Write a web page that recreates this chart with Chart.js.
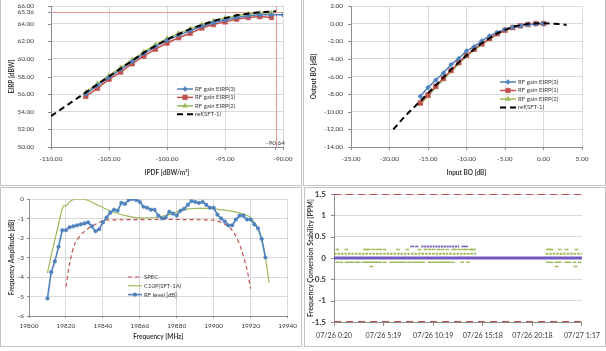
<!DOCTYPE html>
<html><head><meta charset="utf-8">
<script src="https://cdn.jsdelivr.net/npm/chart.js@4.4.1/dist/chart.umd.min.js"></script>
<style>
html,body{margin:0;padding:0;background:#fff;}
body{width:606px;height:351px;position:relative;overflow:hidden;}
canvas{position:absolute;}
.frame{position:absolute;box-sizing:border-box;border:1px solid #c4c4c4;pointer-events:none;}
</style></head><body>
<canvas id="tl" width="301" height="185" style="left:0;top:0"></canvas>
<canvas id="tr" width="301" height="185" style="left:304px;top:0"></canvas>
<canvas id="bl" width="300" height="158" style="left:1px;top:188px"></canvas>
<canvas id="br" width="300" height="158" style="left:305px;top:188px"></canvas>
<div class="frame" style="left:0;top:-1px;width:302px;height:187px"></div>
<div class="frame" style="left:303px;top:-1px;width:303px;height:187px"></div>
<div class="frame" style="left:0;top:187px;width:302px;height:160px"></div>
<div class="frame" style="left:304px;top:187px;width:302px;height:160px"></div>
<script>
// ---------- Top-left: EIRP vs IPDF ----------
const tlX3 = [-107,-106,-105,-104,-103,-102,-101,-100,-99,-98,-97,-96,-95,-94,-93,-92,-91,-90];
const tlEirp3 = [56.0,57.0,57.9,58.8,59.7,60.6,61.4,62.1,62.7,63.2,63.7,64.1,64.4,64.7,64.9,65.0,65.0,65.0];
const tlX12 = [-107,-106,-105,-104,-103,-102,-101,-100,-99,-98,-97,-96,-95,-94,-93,-92,-91];
const tlEirp1 = [55.75,56.65,57.7,58.5,59.45,60.3,61.1,61.8,62.4,62.9,63.5,63.9,64.2,64.5,64.7,64.8,64.7];
const tlEirp2 = [56.2,57.2,58.1,59.0,59.9,60.8,61.6,62.3,62.9,63.4,63.9,64.3,64.6,64.9,65.1,65.2,65.2];
const tlRefX = [-110,-108,-106,-105,-104,-102,-100,-98,-96,-94,-92,-90.6];
const tlRef = [53.5,55.3,57.1,58.0,58.9,60.7,62.2,63.4,64.3,64.95,65.3,65.4];
const tlYTicks = [50,52,54,56,58,60,62,64,65.36,66];
const tlXTicks = [-110,-105,-100,-95,-90.64,-90];
const tlMarkX = -90.64, tlMarkY = 65.36;

// ---------- Top-right: Output BO vs Input BO ----------
const trX = [-16,-15,-14,-13,-12,-11,-10,-9,-8,-7,-6,-5,-4,-3,-2,-1,0];
const trBo3 = [-8.25,-7.25,-6.4,-5.6,-4.65,-3.95,-3.1,-2.6,-1.95,-1.4,-1.0,-0.65,-0.42,-0.27,-0.12,-0.05,0.0];
const trBo1 = [-9.0,-8.1,-7.1,-6.2,-5.3,-4.4,-3.6,-2.9,-2.3,-1.7,-1.15,-0.75,-0.45,-0.25,-0.1,0.0,0.0];
const trBo2 = [-9.1,-8.25,-7.25,-6.35,-5.45,-4.55,-3.7,-3.0,-2.35,-1.75,-1.15,-0.75,-0.45,-0.25,-0.1,0.0,0.0];
const trRefX = [-19.5,-18,-16,-14,-12,-10,-8,-6,-4,-2,0,2,3];
const trRef = [-12.0,-10.5,-8.8,-7.0,-5.2,-3.6,-2.2,-1.1,-0.35,-0.02,0.05,-0.05,-0.15];
const trYTicks = [-14,-12,-10,-8,-6,-4,-2,0,2];
const trXTicks = [-25,-20,-15,-10,-5,0,5];

// ---------- Bottom-left: frequency response ----------
const blRfX = [19810,19812,19814,19816,19818,19820,19822,19824,19826,19828,19830,19832,19834,19836,19838,19840,19842,19844,19846,19848,19850,19852,19854,19856,19858,19860,19862,19864,19866,19868,19870,19872,19874,19876,19878,19880,19882,19884,19886,19888,19890,19892,19894,19896,19898,19900,19902,19904,19906,19908,19910,19912,19914,19916,19918,19920,19922,19924,19926,19928];
const blRf = [-5.1,-3.75,-3.2,-2.45,-1.6,-1.6,-1.45,-1.4,-1.35,-1.3,-1.25,-1.2,-1.4,-1.65,-1.55,-1.2,-0.95,-0.7,-0.55,-0.6,-0.2,-0.25,-0.05,0.0,-0.05,-0.15,-0.4,-0.45,-0.55,-0.55,-0.85,-1.0,-0.95,-0.65,-0.75,-0.85,-0.6,-0.5,-0.3,-0.1,-0.15,-0.2,-0.15,-0.3,-0.45,-0.45,-0.8,-1.0,-1.15,-1.35,-1.35,-1.05,-0.85,-0.85,-1.05,-1.05,-1.3,-1.5,-2.05,-3.0];
const blC10X = [19810,19812,19814,19816,19818,19819,19820,19821,19823,19826,19829,19832,19838,19846,19853,19860,19868,19875,19882,19890,19897,19904,19911,19917,19920,19922,19924,19926,19928,19930];
const blC10 = [-3.8,-2.9,-2.1,-1.3,-0.5,-0.32,-0.38,-0.25,-0.08,0,0,-0.08,-0.35,-0.68,-0.87,-0.97,-0.95,-0.83,-0.6,-0.48,-0.48,-0.55,-0.65,-0.8,-0.95,-1.2,-1.5,-2.05,-3.0,-4.3];
const blSpecX = [19820,19822,19825,19829,19833,19838,19841,19900,19905,19909,19912,19915,19918,19920];
const blSpec = [-4.5,-3.3,-2.25,-1.75,-1.45,-1.2,-1.08,-1.08,-1.25,-1.5,-1.9,-2.6,-3.6,-4.6];
const blXTicks = [19800,19820,19840,19860,19880,19900,19920,19940];
const blYTicks = [-6,-5,-4,-3,-2,-1,0];

// ---------- Bottom-right: conversion stability (hours from start) ----------
const brTickPos = [0,4.98,9.98,14.97,19.97,24.95];
const brTickLabels = ["07/26 0:20","07/26 5:19","07/26 10:19","07/26 15:18","07/26 20:18","07/27 1:17"];
const brYTicks = [-1.5,-1,-0.5,0,0.5,1,1.5];
const brLimit = 1.5;
const brRun01 = [[0,14.3],[21.3,24.95]];
const brPts02 = [0.34,1.24,3.09,3.3,3.49,3.92,4.33,4.69,5.1,6.44,7.38,8.6,9.2,9.6,10.0,10.5,10.9,11.4,12.0,12.2,12.6,13.0,13.3,13.7,13.9,14.1,21.5,21.7,21.9,22.7,23.4,24.4];
const brPtsM01 = [0.34,0.74,1.24,1.58,1.84,2.25,2.51,2.98,3.25,3.49,3.76,4.09,4.33,4.66,5.1,5.77,6.1,6.44,6.77,7.11,7.54,7.95,8.28,8.62,8.95,9.62,9.96,10.3,10.63,10.96,11.3,11.57,11.97,12.91,13.48,21.53,21.87,22.37,22.7,23.37,23.71,24.21,24.71];
const brPtsM02 = [3.76,22.4,24.3];
const brRun027 = [[8.8,12.6]];
const brPts027 = [7.85,8.3,13.0,13.3];

// ---------- styling ----------
const FONT = 'Lato, "Liberation Sans", Arial, sans-serif';
const GRID = '#d9d9d9', AXIS = '#8c8c8c', TXT = '#3a3a3a', MARK = '#e79a96', NONE = 'rgba(0,0,0,0)';
const BLUE = '#4F81BD', RED = '#C0504D', GREEN = '#9BBB59', PURPLE = '#7658C2';
Chart.defaults.font.family = FONT;

function pts(xs, ys){ return xs.map((x,i)=>({x:x, y:ys[i]})); }
function runs(rs, y){ const out=[]; rs.forEach(r=>{ out.push({x:r[0],y:y},{x:r[1],y:y},{x:r[1]+0.001,y:null}); }); return out; }
function level(xs, y){ return xs.map(x=>({x:x,y:y})); }
function fixedTicks(arr){ return s => { s.ticks = arr.map(v=>({value:v})); }; }

const inlineLegend = {
  id:'inlineLegend',
  afterDatasetsDraw(chart, args, o){
    if (!o || o.x === undefined) return;
    const ctx = chart.ctx; ctx.save();
    ctx.font = o.font; ctx.textBaseline = 'middle'; ctx.textAlign = 'left';
    let y = o.y;
    chart.data.datasets.forEach(ds=>{
      if (!ds.legend) return;
      ctx.strokeStyle = ds.borderColor; ctx.lineWidth = ds.borderWidth;
      ctx.setLineDash(ds.borderDash || []);
      ctx.beginPath(); ctx.moveTo(o.x, y); ctx.lineTo(o.x+o.w, y); ctx.stroke();
      ctx.setLineDash([]);
      if (ds.pointRadius > 0 && ds.pointStyle){
        ctx.fillStyle = ds.backgroundColor; ctx.strokeStyle = ds.borderColor; ctx.lineWidth = 0.5;
        Chart.helpers.drawPoint(ctx, {pointStyle:ds.pointStyle, radius:ds.pointRadius, borderWidth:0.5, rotation:0}, o.x+o.w/2, y);
      }
      ctx.fillStyle = TXT; ctx.fillText(ds.label, o.x+o.w+o.gap, y);
      y += o.row;
    });
    ctx.restore();
  }
};
// short outside tick marks on the value axis (labels sit further away)
const yMarks = {
  id:'yMarks',
  afterDraw(chart, args, o){
    if (!o || !o.len) return;
    const s = chart.scales.y, ctx = chart.ctx, x0 = chart.chartArea.left;
    ctx.save(); ctx.strokeStyle = AXIS; ctx.lineWidth = 1; ctx.beginPath();
    s.ticks.forEach(t=>{ const y = Math.round(s.getPixelForValue(t.value)) + 0.5; ctx.moveTo(x0 - o.len, y); ctx.lineTo(x0, y); });
    ctx.stroke(); ctx.restore();
  }
};
// saturation marker lines (x = tlMarkX, y = tlMarkY) and the x label drawn above the axis
const markLines = {
  id:'markLines',
  beforeDatasetsDraw(chart){
    const ctx = chart.ctx, a = chart.chartArea, xs = chart.scales.x, ys = chart.scales.y;
    const px = Math.round(xs.getPixelForValue(tlMarkX)) + 0.5, py = Math.round(ys.getPixelForValue(tlMarkY)) + 0.5;
    ctx.save(); ctx.strokeStyle = MARK; ctx.lineWidth = 1; ctx.beginPath();
    ctx.moveTo(px, a.top); ctx.lineTo(px, a.bottom);
    ctx.moveTo(a.left, py); ctx.lineTo(a.right, py);
    ctx.stroke(); ctx.restore();
  },
  afterDatasetsDraw(chart){
    const ctx = chart.ctx, xs = chart.scales.x;
    ctx.save(); ctx.font = '6.5px ' + FONT; ctx.fillStyle = TXT;
    ctx.textAlign = 'center'; ctx.textBaseline = 'bottom';
    ctx.fillText(tlMarkX.toFixed(2), xs.getPixelForValue(tlMarkX), chart.chartArea.bottom - 1);
    ctx.restore();
  }
};

const base = {responsive:false, animation:false, events:[]};
const tickFont = {family:FONT, size:6.5};
const titleFont = {family:FONT, size:6.5, weight:'bold'};

function lineDs(label, data, color, style, r){
  return {label:label, legend:true, data:data, showLine:true, borderColor:color, backgroundColor:color,
    borderWidth:1.5, pointStyle:style, pointRadius:r, pointBorderWidth:0.5, pointBorderColor:color, pointBackgroundColor:color};
}
function refDs(data){
  return {label:'ref(SFT-1)', legend:true, data:data, showLine:true, borderColor:'#000', backgroundColor:'#000',
    borderWidth:2, borderDash:[6,4], pointRadius:0, order:-1};
}

// TL
new Chart(document.getElementById('tl'), {
  type:'scatter',
  data:{datasets:[
    lineDs('RF gain EIRP(3)', pts(tlX3, tlEirp3), BLUE, 'rectRot', 2.4),
    lineDs('RF gain EIRP(1)', pts(tlX12, tlEirp1), RED, 'rect', 3.3),
    lineDs('RF gain EIRP(2)', pts(tlX12, tlEirp2), GREEN, 'triangle', 2.8),
    refDs(pts(tlRefX, tlRef))
  ]},
  options:Object.assign({}, base, {
    layout:{padding:{left:0,right:18,top:6,bottom:0}},
    plugins:{legend:{display:false}, tooltip:{enabled:false}, yMarks:{len:3},
      inlineLegend:{x:177, y:89, w:16, gap:2, row:8.4, font:'6px '+FONT}},
    scales:{
      x:{type:'linear', min:-110, max:-90, afterBuildTicks:fixedTicks(tlXTicks), afterFit:s=>{s.height=38;},
        grid:{color:c=>(c.index===tlXTicks.indexOf(tlMarkX))?NONE:GRID, tickLength:3, tickColor:AXIS}, border:{color:AXIS},
        ticks:{font:tickFont, color:TXT, padding:5, maxRotation:0, autoSkip:false, callback:v=>v===tlMarkX?'':v.toFixed(2)},
        title:{display:true, text:'IPDF [dBW/m²]', font:titleFont, color:TXT, padding:{top:0,bottom:8.1}}},
      y:{type:'linear', min:50, max:66, afterBuildTicks:fixedTicks(tlYTicks), afterFit:s=>{s.width=51;},
        grid:{color:c=>(c.index===tlYTicks.indexOf(tlMarkY))?NONE:GRID, tickLength:15, tickColor:NONE}, border:{color:AXIS},
        ticks:{font:tickFont, color:TXT, padding:2, autoSkip:false, callback:v=>v.toFixed(2)},
        title:{display:true, text:'EIRP [dBW]', font:titleFont, color:TXT, padding:{top:8,bottom:0}}}
    }
  }),
  plugins:[inlineLegend, markLines, yMarks]
});

// TR
new Chart(document.getElementById('tr'), {
  type:'scatter',
  data:{datasets:[
    lineDs('RF gain EIRP(3)', pts(trX, trBo3), BLUE, 'rectRot', 2.4),
    lineDs('RF gain EIRP(1)', pts(trX, trBo1), RED, 'rect', 3.3),
    lineDs('RF gain EIRP(2)', pts(trX, trBo2), GREEN, 'triangle', 2.8),
    refDs(pts(trRefX, trRef))
  ]},
  options:Object.assign({}, base, {
    layout:{padding:{left:0,right:23,top:6,bottom:0}},
    plugins:{legend:{display:false}, tooltip:{enabled:false}, yMarks:{len:3},
      inlineLegend:{x:196, y:82, w:16, gap:2, row:8.5, font:'6px '+FONT}},
    scales:{
      x:{type:'linear', min:-25, max:5, afterBuildTicks:fixedTicks(trXTicks), afterFit:s=>{s.height=38;},
        grid:{color:GRID, tickLength:3, tickColor:AXIS}, border:{color:AXIS},
        ticks:{font:tickFont, color:TXT, padding:5, maxRotation:0, autoSkip:false, callback:v=>v.toFixed(2)},
        title:{display:true, text:'Input BO [dB]', font:titleFont, color:TXT, padding:{top:0,bottom:8.1}}},
      y:{type:'linear', min:-14, max:2, afterBuildTicks:fixedTicks(trYTicks), afterFit:s=>{s.width=47;},
        grid:{color:GRID, tickLength:6, tickColor:NONE}, border:{color:AXIS},
        ticks:{font:tickFont, color:TXT, padding:2, autoSkip:false, callback:v=>v.toFixed(2)},
        title:{display:true, text:'Output BO [dB]', font:titleFont, color:TXT, padding:{top:6,bottom:0}}}
    }
  }),
  plugins:[inlineLegend, yMarks]
});

// BL
new Chart(document.getElementById('bl'), {
  type:'scatter',
  data:{datasets:[
    {label:'SPEC', legend:true, data:pts(blSpecX, blSpec), showLine:true, borderColor:RED, backgroundColor:RED,
      borderWidth:1.2, borderDash:[4,3], pointRadius:0, tension:0.3},
    {label:'C10P(SFT-1A)', legend:true, data:pts(blC10X, blC10), showLine:true, borderColor:GREEN, backgroundColor:GREEN,
      borderWidth:1.2, pointRadius:0, cubicInterpolationMode:'monotone'},
    {label:'RF level [dB]', legend:true, data:pts(blRfX, blRf), showLine:true, borderColor:BLUE, backgroundColor:BLUE,
      borderWidth:1.6, pointStyle:'circle', pointRadius:1.8, pointBorderWidth:0.5, order:-1}
  ]},
  options:Object.assign({}, base, {
    layout:{padding:{left:0,right:13,top:11,bottom:0}},
    plugins:{legend:{display:false}, tooltip:{enabled:false},
      inlineLegend:{x:127, y:89, w:14, gap:2, row:8.8, font:'6px '+FONT}},
    scales:{
      x:{type:'linear', min:19800, max:19940, afterBuildTicks:fixedTicks(blXTicks), afterFit:s=>{s.height=30;},
        grid:{color:GRID, tickLength:2, tickColor:AXIS}, border:{color:AXIS},
        ticks:{font:tickFont, color:TXT, padding:4, maxRotation:0, autoSkip:false, callback:v=>String(v)},
        title:{display:true, text:'Frequency [MHz]', font:titleFont, color:TXT, padding:{top:0,bottom:5.1}}},
      y:{type:'linear', min:-6, max:0, afterBuildTicks:fixedTicks(blYTicks), afterFit:s=>{s.width=28;},
        grid:{color:GRID, tickLength:2, tickColor:AXIS}, border:{color:AXIS},
        ticks:{font:tickFont, color:TXT, padding:3, autoSkip:false, callback:v=>String(v)},
        title:{display:true, text:'Frequency Amplitude [dB]', font:titleFont, color:TXT, padding:{top:7,bottom:0}}}
    }
  }),
  plugins:[inlineLegend]
});

// BR
const markDs = (xs, y) => ({data:level(xs, y), showLine:false, pointStyle:'line', pointRadius:1.8,
  pointBorderWidth:1.5, borderColor:GREEN, backgroundColor:GREEN});
new Chart(document.getElementById('br'), {
  type:'scatter',
  data:{datasets:[
    {data:[{x:0,y:brLimit},{x:24.95,y:brLimit}], showLine:true, borderColor:RED, borderWidth:2, borderDash:[7,5], pointRadius:0},
    {data:[{x:0,y:-brLimit},{x:24.95,y:-brLimit}], showLine:true, borderColor:RED, borderWidth:2, borderDash:[7,5], pointRadius:0},
    {data:[{x:0,y:0},{x:24.95,y:0}], showLine:true, borderColor:PURPLE, borderWidth:3, pointRadius:0},
    {data:runs(brRun01, 0.1), showLine:true, spanGaps:false, borderColor:GREEN, borderWidth:2, borderDash:[2.5,1], pointRadius:0},
    markDs(brPts02, 0.2), markDs(brPtsM01, -0.1), markDs(brPtsM02, -0.2),
    {data:runs(brRun027, 0.27), showLine:true, spanGaps:false, borderColor:PURPLE, borderWidth:2, borderDash:[2,0.8], pointRadius:0},
    {data:level(brPts027, 0.27), showLine:false, pointStyle:'line', pointRadius:1.8, pointBorderWidth:1.5, borderColor:PURPLE, backgroundColor:PURPLE}
  ]},
  options:Object.assign({}, base, {
    layout:{padding:{left:0,right:23,top:6,bottom:0}},
    plugins:{legend:{display:false}, tooltip:{enabled:false}, yMarks:{len:3}},
    scales:{
      x:{type:'linear', min:0, max:24.95, afterBuildTicks:fixedTicks(brTickPos), afterFit:s=>{s.height=24;},
        grid:{drawOnChartArea:false, tickLength:4, tickColor:AXIS, color:AXIS}, border:{color:AXIS},
        ticks:{font:{family:FONT,size:7.2}, color:TXT, padding:5, maxRotation:0, autoSkip:false,
          callback:(v,i)=>brTickLabels[i]}},
      y:{type:'linear', min:-1.5, max:1.5, afterBuildTicks:fixedTicks(brYTicks), afterFit:s=>{s.width=29;},
        grid:{color:GRID, tickLength:7, tickColor:NONE}, border:{color:AXIS},
        ticks:{font:{family:FONT,size:8,weight:'bold'}, color:TXT, padding:1, autoSkip:false, callback:v=>String(v)},
        title:{display:true, text:'Frequency Conversion Stability [PPM]', font:{family:FONT,size:7,weight:'bold'}, color:TXT, padding:{top:1.5,bottom:0}}}
    }
  }),
  plugins:[yMarks]
});
</script>
</body></html>
